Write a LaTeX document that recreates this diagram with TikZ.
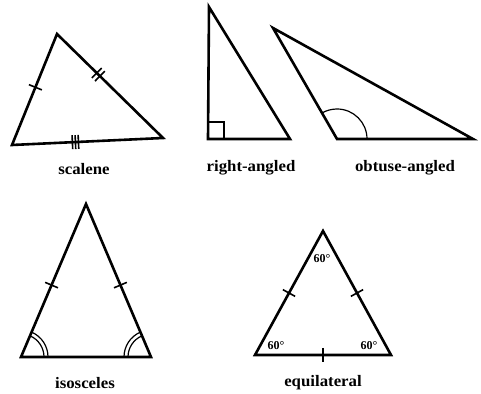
\documentclass[tikz,border=0pt]{standalone}
\usepackage{fontspec}
\setmainfont{Liberation Serif}
\usetikzlibrary{calc}
\newcommand\tickat[4][7pt]{\draw[tickmark] ($(#2)!#4!(#3)!#1!90:(#3)$) -- ($(#2)!#4!(#3)!#1!-90:(#3)$);}
\begin{document}
\begin{tikzpicture}[x=1pt,y=1pt,
  edge/.style={line width=2.6pt, line join=miter},
  tickmark/.style={line width=1.6pt},
  thinline/.style={line width=1.2pt},
  lbl/.style={font=\fontsize{16}{16}\selectfont\bfseries, inner sep=0pt, xscale=1.05},
  deg/.style={font=\fontsize{12}{12}\selectfont\bfseries, inner sep=0pt}]
\useasboundingbox (0,0) rectangle (481,393);
% scalene
\coordinate (A1) at (57,359);
\coordinate (B1) at (12,248);
\coordinate (C1) at (163,255);
\draw[edge] (A1) -- (B1) -- (C1) -- cycle;
\tickat{B1}{A1}{0.52}
\tickat{A1}{C1}{0.375}
\tickat{A1}{C1}{0.405}
\tickat{B1}{C1}{0.40}
\tickat{B1}{C1}{0.42}
\tickat{B1}{C1}{0.44}
\node[lbl] (l1) at (84,224) {scalene};
% right-angled
\coordinate (A2) at (209,386);
\coordinate (B2) at (208,254);
\coordinate (C2) at (290,254);
\draw[edge] (A2) -- (B2) -- (C2) -- cycle;
\draw[thinline] ($(B2)+(0,17)$) -- ($(B2)+(16,17)$) -- ($(B2)+(16,0)$);
\node[lbl] (l2) at (251,225) {right-angled};
% obtuse-angled
\coordinate (A3) at (273,365);
\coordinate (B3) at (337,254);
\coordinate (C3) at (473,254);
\draw[edge] (A3) -- (B3) -- (C3) -- cycle;
\draw[thinline] ($(B3)+(30,0)$) arc[start angle=0, end angle=120, radius=30];
\node[lbl] (l3) at (405,225) {obtuse-angled};
% isosceles
\coordinate (A4) at (86,189);
\coordinate (B4) at (21,36);
\coordinate (C4) at (151,36);
\draw[edge] (A4) -- (B4) -- (C4) -- cycle;
\tickat{B4}{A4}{0.47}
\tickat{C4}{A4}{0.47}
\draw[thinline] ($(B4)+(27,0)$) arc[start angle=0, end angle=67, radius=27];
\draw[thinline] ($(B4)+(23,0)$) arc[start angle=0, end angle=67, radius=23];
\draw[thinline] ($(C4)+(-27,0)$) arc[start angle=180, end angle=113, radius=27];
\draw[thinline] ($(C4)+(-23,0)$) arc[start angle=180, end angle=113, radius=23];
\node[lbl] (l4) at (85,10) {isosceles};
% equilateral
\coordinate (A5) at (323,162);
\coordinate (B5) at (255,38);
\coordinate (C5) at (391,38);
\draw[edge] (A5) -- (B5) -- (C5) -- cycle;
\tickat{B5}{A5}{0.5}
\tickat{C5}{A5}{0.5}
\tickat{B5}{C5}{0.5}
\node[deg] (d1) at (322,134) {60°};
\node[deg] (d2) at (276,47) {60°};
\node[deg] (d3) at (369,47) {60°};
\node[lbl] (l5) at (323,10) {equilateral};
\end{tikzpicture}
\end{document}
